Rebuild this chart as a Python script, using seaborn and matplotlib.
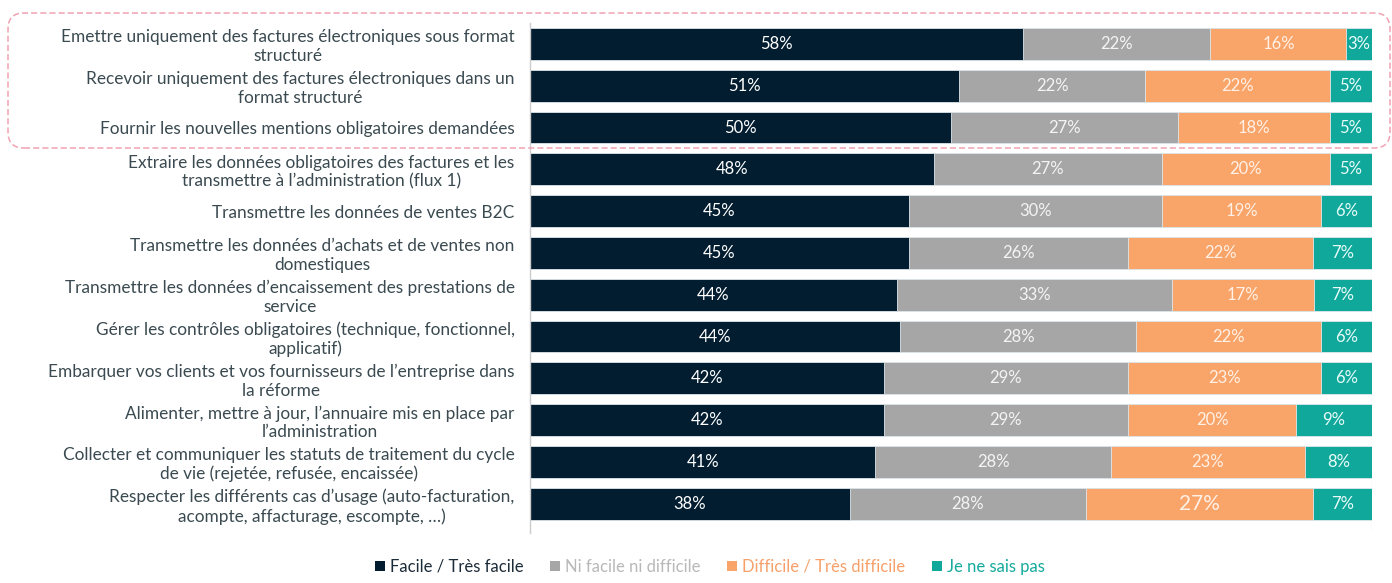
import matplotlib
matplotlib.use("Agg")
import matplotlib.pyplot as plt
import seaborn as sns
import numpy as np
import pandas as pd
from matplotlib.patches import FancyBboxPatch, Patch
from matplotlib.transforms import IdentityTransform

categories = [
    "Emettre uniquement des factures électroniques sous format\nstructuré",
    "Recevoir uniquement des factures électroniques dans un\nformat structuré",
    "Fournir les nouvelles mentions obligatoires demandées",
    "Extraire les données obligatoires des factures et les\ntransmettre à l’administration (flux 1)",
    "Transmettre les données de ventes B2C",
    "Transmettre les données d’achats et de ventes non\ndomestiques",
    "Transmettre les données d’encaissement des prestations de\nservice",
    "Gérer les contrôles obligatoires (technique, fonctionnel,\napplicatif)",
    "Embarquer vos clients et vos fournisseurs de l’entreprise dans\nla réforme",
    "Alimenter, mettre à jour, l’annuaire mis en place par\nl’administration",
    "Collecter et communiquer les statuts de traitement du cycle\nde vie (rejetée, refusée, encaissée)",
    "Respecter les différents cas d’usage (auto-facturation,\nacompte, affacturage, escompte, …)",
]
facile = [58, 51, 50, 48, 45, 45, 44, 44, 42, 42, 41, 38]
neutre = [22, 22, 27, 27, 30, 26, 33, 28, 29, 29, 28, 28]
difficile = [16, 22, 18, 20, 19, 22, 17, 22, 23, 20, 23, 27]
nsp = [3, 5, 5, 5, 6, 7, 7, 6, 6, 9, 8, 7]
series_names = ["Facile / Très facile", "Ni facile ni difficile",
                "Difficile / Très difficile", "Je ne sais pas"]
colors = ["#021d30", "#a6a6a6", "#f9a469", "#10a89b"]
label_colors = ["#ffffff", "#f4f4f4", "#fff1e6", "#e8fbf8"]

sns.set_theme(style="white")
plt.rcParams["font.family"] = ["Lato", "DejaVu Sans"]

values = np.array([facile, neutre, difficile, nsp], dtype=float)
share = values / values.sum(axis=0) * 100
cum = np.cumsum(share, axis=0)

df = pd.DataFrame({"cat": categories})
for k, name in enumerate(series_names):
    df[name] = cum[k]

fig = plt.figure(figsize=(13.92, 5.83), dpi=100)
ax = fig.add_axes([530 / 1392, 1 - 533 / 583, 842 / 1392, 510 / 583])

for k in reversed(range(len(series_names))):
    sns.barplot(data=df, x=series_names[k], y="cat", order=categories,
                color=colors[k], saturation=1, width=0.76, orient="h",
                errorbar=None, ax=ax, edgecolor="#dfe8ec", linewidth=0.6)

for i in range(len(categories)):
    start = 0.0
    for k in range(len(series_names)):
        w = share[k, i]
        fs = 12
        if i == len(categories) - 1 and k == 2:
            fs = 15
        ax.text(start + w / 2, i, f"{int(values[k, i])}%", ha="center",
                va="center", color=label_colors[k], fontsize=fs)
        start += w

ax.set_xlim(0, 100)
ax.set_ylim(len(categories) - 0.5 + 0.2, -0.5)
ax.axvline(100, color="#eeeeee", lw=1, zorder=0)
for s in ["top", "right", "bottom"]:
    ax.spines[s].set_visible(False)
ax.spines["left"].set_color("#cccccc")
ax.spines["left"].set_linewidth(1)
ax.set_xlabel("")
ax.set_ylabel("")
ax.set_xticks([])
ax.tick_params(axis="y", length=0, pad=11)
for t in ax.get_yticklabels():
    t.set_fontsize(12.4)
    t.set_color("#3a4a50")
    t.set_multialignment("center")
    t.set_linespacing(1.2)

handles = [Patch(facecolor=c, edgecolor="none") for c in colors]
leg = fig.legend(handles, series_names, loc="center", ncol=4,
                 bbox_to_anchor=(710 / 1392, 1 - 567 / 583), frameon=False,
                 handlelength=0.6, handleheight=0.6, handletextpad=0.3,
                 columnspacing=1.6, fontsize=12)
for t, c in zip(leg.get_texts(), ["#1c2b38", "#b8b8b8", "#f7a06a", "#14aa9c"]):
    t.set_color(c)

box = FancyBboxPatch((8, 583 - 148), 1382, 135,
                     boxstyle="round,pad=0,rounding_size=16",
                     transform=IdentityTransform(), fill=False,
                     edgecolor="#f0a3b3", linestyle=(0, (4, 2)), linewidth=1.1)
fig.add_artist(box)

fig.savefig("out.png", dpi=100)
